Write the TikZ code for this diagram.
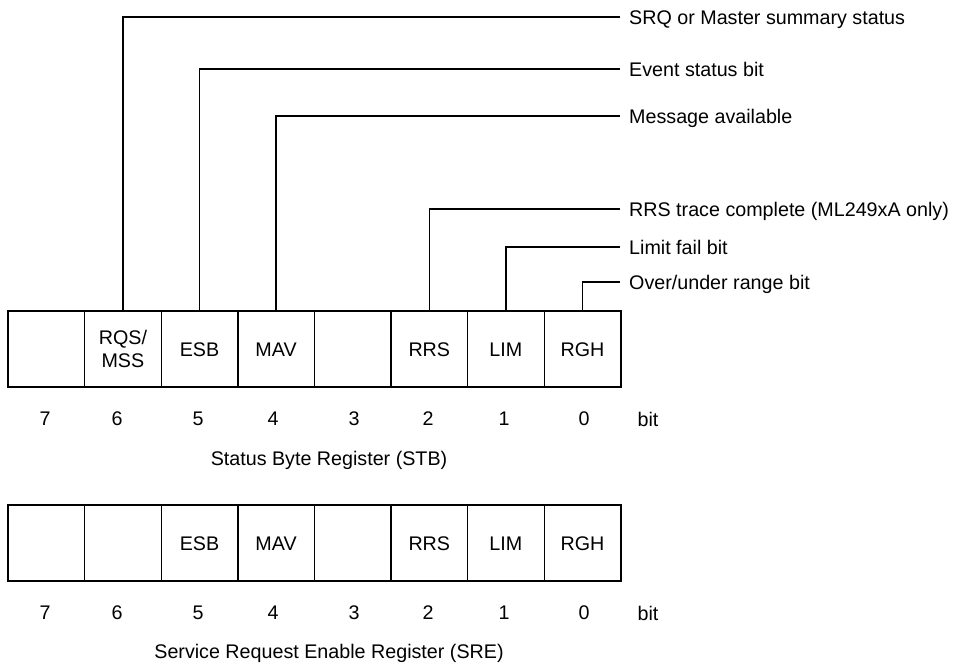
\documentclass[tikz,border=0pt]{standalone}
\usepackage{fontspec}
\setmainfont{Liberation Sans}
\usetikzlibrary{positioning}
\tikzset{
  regtext/.style={font=\fontsize{19.7}{23}\selectfont, text height=14pt, text depth=0pt},
  bitcell/.style={regtext, draw=black, line width=1.4pt, minimum width=76.6pt, minimum height=76pt, inner sep=0pt, align=center},
  bitnum/.style={regtext, inner sep=0pt},
  desc/.style={regtext, anchor=west, inner xsep=9pt, inner ysep=0pt},
  leader/.style={black, line width=1.3pt}
}
\begin{document}
\begin{tikzpicture}[x=1pt,y=-1pt]
\useasboundingbox (0,0) rectangle (959,664);
\pgfmathsetmacro{\cellw}{76.6}
\pgfmathsetmacro{\stby}{349}
\pgfmathsetmacro{\srey}{543}
\foreach \bitno/\txt in {7/,5/ESB,4/MAV,3/,2/RRS,1/LIM,0/RGH}
  \node[bitcell] (stb\bitno) at ({8+\cellw*(7.5-\bitno)},\stby) {\txt};
\node[bitcell, text height={}, text depth={}] (stb6) at ({8+\cellw*1.5},\stby) {RQS/\\MSS};
\foreach \bitno/\txt in {7/,6/,5/ESB,4/MAV,3/,2/RRS,1/LIM,0/RGH}
  \node[bitcell] (sre\bitno) at ({8+\cellw*(7.5-\bitno)},\srey) {\txt};
\foreach \bitno/\xx in {7/45,6/117,5/198,4/273,3/354,2/428,1/504,0/584} {
  \node[bitnum] (stbn\bitno) at (\xx,418) {\bitno};
  \node[bitnum] (sren\bitno) at (\xx,612) {\bitno};
}
\node[bitnum] (stbbit) at (648,419) {bit};
\node[bitnum] (srebit) at (648,613) {bit};
\node[regtext] (stbtitle) at (329,458) {Status Byte Register (STB)};
\node[regtext] (sretitle) at (329,651) {Service Request Enable Register (SRE)};
\node[desc] (srq) at (620,17) {SRQ or Master summary status};
\node[desc] (esbd) at (620,69) {Event status bit};
\node[desc] (mavd) at (620,116) {Message available};
\node[desc] (rrsd) at (620,209) {RRS trace complete (ML249xA only)};
\node[desc] (limd) at (620,247) {Limit fail bit};
\node[desc] (rghd) at (620,282) {Over/under range bit};
\draw[leader] (stb6.north) |- (srq.west);
\draw[leader] (stb5.north) |- (esbd.west);
\draw[leader] (stb4.north) |- (mavd.west);
\draw[leader] (stb2.north) |- (rrsd.west);
\draw[leader] (stb1.north) |- (limd.west);
\draw[leader] (stb0.north) |- (rghd.west);
\end{tikzpicture}
\end{document}
